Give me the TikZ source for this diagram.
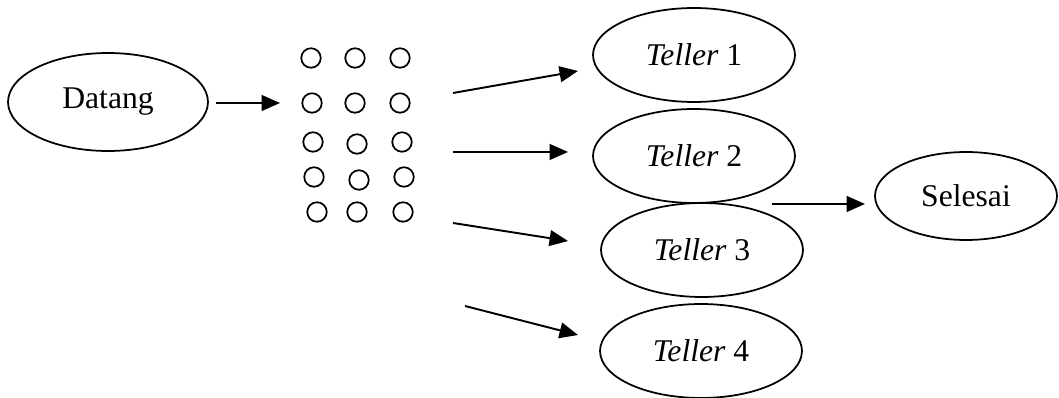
\documentclass[tikz,border=0pt]{standalone}
\usepackage{fontspec}
\setmainfont{Liberation Serif}
\usetikzlibrary{shapes.geometric,arrows.meta}

\begin{document}
\begin{tikzpicture}[x=0.02cm, y=-0.02cm,
    state/.style = {draw, ellipse, line width=1pt, inner sep=0pt,
        font=\fontsize{18}{21}\selectfont},
    teller/.style = {state, minimum width=4.04cm, minimum height=1.88cm},
    antri/.style = {draw, circle, line width=1pt, minimum size=0.39cm, inner sep=0pt},
    panah/.style = {-{Triangle[length=10.5pt, width=9pt]}, line width=1.1pt}]

\useasboundingbox (0,0) rectangle (1059,398);

\node[state, minimum width=4cm, minimum height=1.96cm] (datang) at (108,102) {Datang};

\node[teller] (t1) at (694,55) {\textit{Teller} 1};
\node[teller] (t2) at (694,156) {\textit{Teller} 2};
\node[teller] (t3) at (702,250) {\textit{Teller} 3};
\node[teller] (t4) at (701,351) {\textit{Teller} 4};

\node[state, minimum width=3.64cm, minimum height=1.76cm] (selesai) at (966,196) {Selesai};

% antrian
\foreach \x/\y [count=\i] in {311/58, 355/58, 400/58,
                              312/103, 355/103, 400/103,
                              313/142, 357/144, 402/142,
                              314/177, 359/180, 404/177,
                              317/212, 357/212, 403/212}
    \node[antri] (q\i) at (\x,\y) {};

% ujung panah
\coordinate (a0) at (216,103);
\coordinate (b0) at (280,103);
\coordinate (a1) at (453,93);
\coordinate (b1) at (578,71);
\coordinate (a2) at (453,152);
\coordinate (b2) at (568,152);
\coordinate (a3) at (453,223);
\coordinate (b3) at (568,241);
\coordinate (a4) at (465,306);
\coordinate (b4) at (578,335);
\coordinate (a5) at (772,204);
\coordinate (b5) at (865,204);

\draw[panah] (a0) -- (b0);
\draw[panah] (a1) -- (b1);
\draw[panah] (a2) -- (b2);
\draw[panah] (a3) -- (b3);
\draw[panah] (a4) -- (b4);
\draw[panah] (a5) -- (b5);

\end{tikzpicture}
\end{document}
